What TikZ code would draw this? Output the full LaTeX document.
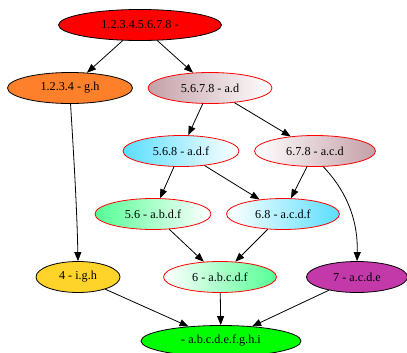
\documentclass[tikz,border=0pt]{standalone}
\usepackage{fontspec}
\setmainfont{Liberation Serif}
\usetikzlibrary{shapes.geometric,arrows.meta}
\definecolor{cOrange}{RGB}{255,128,42}
\definecolor{cYellow}{RGB}{255,212,42}
\definecolor{cMagenta}{RGB}{195,57,170}
\definecolor{cRosy}{RGB}{196,160,168}
\definecolor{cSky}{RGB}{90,222,255}
\definecolor{cSea}{RGB}{85,255,150}
\definecolor{cGreen}{RGB}{0,255,0}
\tikzset{
  nd/.style={ellipse, inner sep=0pt, minimum height=31bp, line width=0.8bp,
    font=\fontsize{12.2bp}{14bp}\selectfont},
  solidnd/.style={nd, draw=black},
  gradnd/.style={nd, draw=red, shading=axis, shading angle=90},
  arr/.style={draw=black, line width=0.8bp, -{Triangle[length=9bp,width=7bp]}}
}
\begin{document}
\begin{tikzpicture}[x=1bp,y=-1bp]
\useasboundingbox (0,0) rectangle (407,353);
\node[solidnd, fill=red, minimum width=163bp] (top) at (140,25) {1.2.3.4.5.6.7.8 -};
\node[solidnd, fill=cOrange, minimum width=125bp] (a) at (70,88) {1.2.3.4 - g.h};
\node[gradnd, left color=cRosy, right color=white, minimum width=124bp] (b) at (210,88) {5.6.7.8 - a.d};
\node[gradnd, left color=cSky, right color=white, minimum width=116bp] (c) at (181,151) {5.6.8 - a.d.f};
\node[gradnd, left color=white, right color=cRosy, minimum width=121bp] (d) at (315,151) {6.7.8 - a.c.d};
\node[gradnd, left color=cSea, right color=white, minimum width=116bp] (e) at (153,214) {5.6 - a.b.d.f};
\node[gradnd, left color=white, right color=cSky, minimum width=113bp] (f) at (283,214) {6.8 - a.c.d.f};
\node[solidnd, fill=cYellow, minimum width=84bp] (g) at (78,277) {4 - i.g.h};
\node[gradnd, left color=white, right color=cSea, minimum width=113bp] (h) at (220,277) {6 - a.b.c.d.f};
\node[solidnd, fill=cMagenta, minimum width=101bp] (i) at (357,277) {7 - a.c.d.e};
\node[solidnd, fill=cGreen, minimum width=160bp] (j) at (221,341) {- a.b.c.d.e.f.g.h.i};
\draw[arr] (top) -- (a);
\draw[arr] (top) -- (b);
\draw[arr] (b) -- (c);
\draw[arr] (b) -- (d);
\draw[arr] (c) -- (e);
\draw[arr] (c) -- (f);
\draw[arr] (d) -- (f);
\draw[arr] (d.-62) .. controls (350,195) and (358,225) .. (i.north);
\draw[arr] (e) -- (h);
\draw[arr] (f) -- (h);
\draw[arr] (a.-88) .. controls (74,160) and (77,210) .. (g.north);
\draw[arr] (g) -- (j);
\draw[arr] (h) -- (j);
\draw[arr] (i) -- (j);
\end{tikzpicture}
\end{document}
